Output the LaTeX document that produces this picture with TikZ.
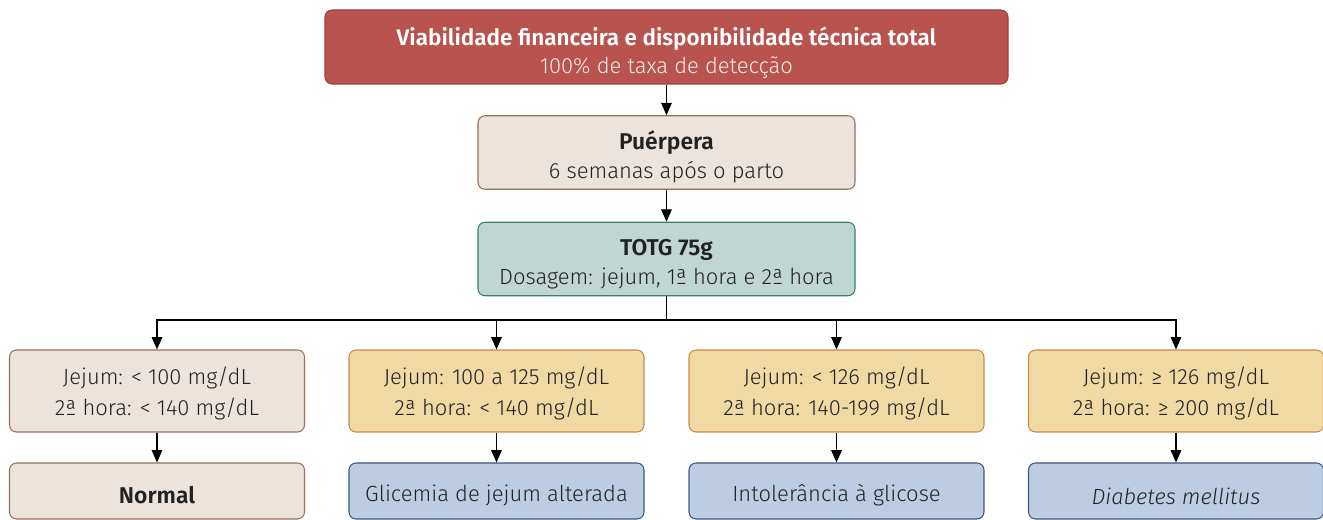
\documentclass[tikz,border=0pt]{standalone}
\usepackage{fontspec}
\setmainfont{Fira Sans Light}[BoldFont={Fira Sans SemiBold}, ItalicFont={Fira Sans Light Italic}]
\usetikzlibrary{arrows.meta}
\definecolor{topfill}{HTML}{B9534F}
\definecolor{topline}{HTML}{9E3F3B}
\definecolor{beigefill}{HTML}{EDE3DD}
\definecolor{beigeline}{HTML}{9A6E5C}
\definecolor{tealfill}{HTML}{BFD6D3}
\definecolor{tealline}{HTML}{3E7A72}
\definecolor{yellowfill}{HTML}{F1D9A3}
\definecolor{yellowline}{HTML}{C48C45}
\definecolor{bluefill}{HTML}{BCCDE3}
\definecolor{blueline}{HTML}{3B5680}
\definecolor{txt}{HTML}{222222}
% zero-width strut that pushes the first line down
\newcommand{\lifter}[1]{\rule{0pt}{#1}}
\tikzset{
    box/.style={draw, rounded corners=4pt, line width=0.6pt, align=center,
        inner sep=0pt, text=txt, font=\fontsize{12.5}{18}\selectfont},
    headbox/.style={box, fill=topfill, draw=topline, text=white,
        minimum width=13.66cm, minimum height=1.48cm, font=\fontsize{12.5}{15.5}\selectfont},
    midbox/.style={box, minimum width=7.54cm, minimum height=1.47cm,
        font=\fontsize{12.5}{16.5}\selectfont},
    testbox/.style={box, minimum width=5.9cm, minimum height=1.64cm},
    resbox/.style={box, fill=bluefill, draw=blueline, minimum width=5.9cm, minimum height=1.12cm,
        execute at begin node={\lifter{15pt}}},
    link/.style={-{Triangle[length=7pt,width=6pt]}, line width=0.6pt, black}
}
\begin{document}
\begin{tikzpicture}
    \useasboundingbox (0,0) rectangle (26.46,10.4);
    \node[headbox] (top) at (13.33,9.46)
    {\lifter{17pt}\textbf{\fontsize{12.8}{15.5}\selectfont Viabilidade financeira e disponibilidade técnica total}\\
     \color{white!90!topfill}100\% de taxa de detecção};
    \node[midbox, fill=beigefill, draw=beigeline] (puer) at (13.33,7.35)
    {\lifter{15.5pt}\textbf{\fontsize{13}{16.5}\selectfont Puérpera}\\ 6 semanas após o parto};
    \node[midbox, fill=tealfill, draw=tealline] (totg) at (13.33,5.22)
    {\lifter{15pt}\textbf{\fontsize{13}{16.5}\selectfont TOTG 75g}\\ Dosagem: jejum, 1ª hora e 2ª hora};
    \coordinate (split) at (13.33,4.0);

    \node[testbox, fill=beigefill, draw=beigeline] (t1) at (3.14,2.58)
    {\lifter{13pt}Jejum: < 100 mg/dL\\ 2ª hora: < 140 mg/dL};
    \node[testbox, fill=yellowfill, draw=yellowline] (t2) at (9.93,2.58)
    {\lifter{13pt}Jejum: 100 a 125 mg/dL\\ 2ª hora: < 140 mg/dL};
    \node[testbox, fill=yellowfill, draw=yellowline] (t3) at (16.73,2.58)
    {\lifter{13pt}Jejum: < 126 mg/dL\\ 2ª hora: 140-199 mg/dL};
    \node[testbox, fill=yellowfill, draw=yellowline] (t4) at (23.52,2.58)
    {\lifter{13pt}Jejum: ≥ 126 mg/dL\\ 2ª hora: ≥ 200 mg/dL};

    \node[resbox, fill=beigefill, draw=beigeline] (r1) at (3.14,0.58)
    {\textbf{\fontsize{13}{16}\selectfont Normal}};
    \node[resbox] (r2) at (9.93,0.58) {Glicemia de jejum alterada};
    \node[resbox] (r3) at (16.73,0.58) {Intolerância à glicose};
    \node[resbox] (r4) at (23.52,0.58) {\textit{Diabetes mellitus}};

    \draw[link] (top) -- (puer);
    \draw[link] (puer) -- (totg);
    \draw[line width=0.6pt] (totg) -- (split);
    \foreach \i in {1,...,4}
    {
        \draw[link] (split) -| (t\i);
        \draw[link] (t\i) -- (r\i);
    }
\end{tikzpicture}
\end{document}
